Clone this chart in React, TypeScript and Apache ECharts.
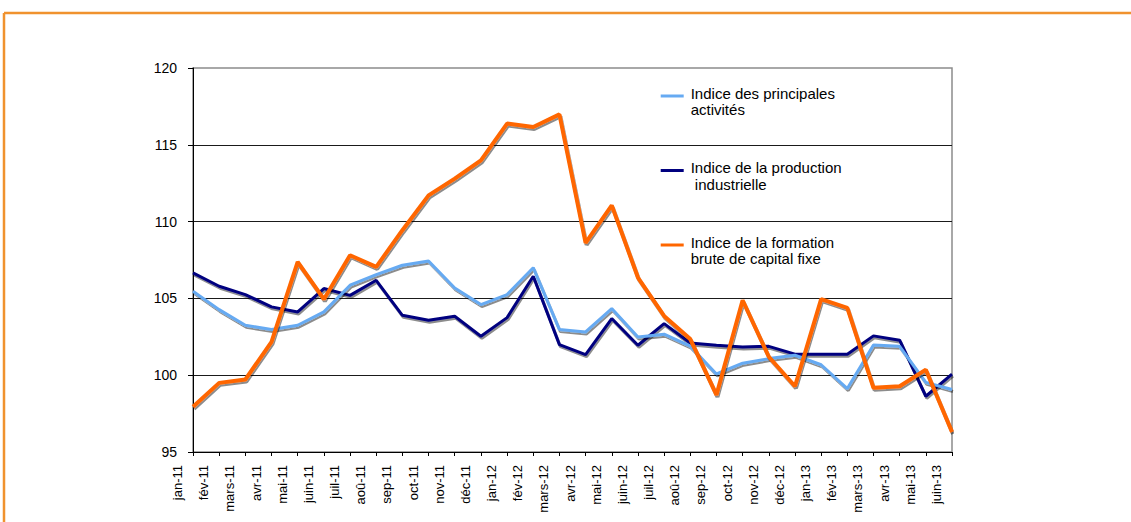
import React, { useEffect, useRef } from "react";
import * as echarts from "echarts";

const months = [
  "jan-11", "fév-11", "mars-11", "avr-11", "mai-11", "juin-11", "juil-11", "aoû-11", "sep-11", "oct-11", "nov-11", "déc-11",
  "jan-12", "fév-12", "mars-12", "avr-12", "mai-12", "juin-12", "juil-12", "aoû-12", "sep-12", "oct-12", "nov-12", "déc-12",
  "jan-13", "fév-13", "mars-13", "avr-13", "mai-13", "juin-13",
];

const principalesActivites = [
  105.47, 104.27, 103.25, 102.97, 103.25, 104.12, 105.86, 106.55, 107.16, 107.44, 105.68, 104.6,
  105.25, 107.0, 102.97, 102.82, 104.34, 102.49, 102.67, 101.89, 100.08, 100.78, 101.08, 101.3,
  100.68, 99.13, 101.97, 101.88, 99.53, 99.07,
];

const productionIndustrielle = [
  106.66, 105.79, 105.25, 104.45, 104.12, 105.64, 105.2, 106.18, 103.9, 103.58, 103.84, 102.54,
  103.75, 106.44, 101.99, 101.34, 103.69, 101.95, 103.36, 102.1, 101.95, 101.84, 101.88, 101.37,
  101.37, 101.37, 102.56, 102.28, 98.63, 100.07,
];

const formationCapital = [
  97.94, 99.5, 99.72, 102.17, 107.37, 104.95, 107.81, 107.05, 109.44, 111.71, 112.8, 113.99,
  116.38, 116.16, 116.98, 108.61, 111.06, 106.36, 103.86, 102.35, 98.72, 104.88, 101.2, 99.28,
  104.95, 104.38, 99.18, 99.28, 100.36, 96.3,
];

const nameLB = "Indice des principales\nactivités";
const nameNV = "Indice de la production\n industrielle";
const nameOR = "Indice de la formation\nbrute de capital fixe";

const FONT = "'Liberation Sans', Arial, sans-serif";

export default function App() {
  const ref = useRef<HTMLDivElement>(null);

  useEffect(() => {
    if (!ref.current) return;
    const chart = echarts.init(ref.current, null, { renderer: "svg" });
    const shadow = {
      shadowColor: "rgba(0,0,0,0.45)",
      shadowBlur: 1.5,
      shadowOffsetX: 1,
      shadowOffsetY: 2,
    };
    chart.setOption({
      animation: false,
      backgroundColor: "#ffffff",
      textStyle: { fontFamily: FONT },
      grid: {
        left: 193,
        right: 179,
        top: 68,
        bottom: 70,
        show: true,
        borderColor: "#8c8c8c",
        borderWidth: 1.5,
        backgroundColor: "transparent",
      },
      legend: {
        orient: "vertical",
        left: 655.7,
        top: 70.5,
        itemWidth: 23,
        itemHeight: 3,
        itemGap: 33,
        icon: "rect",
        selectedMode: false,
        data: [nameLB, nameNV, nameOR],
        formatter: (name: string) =>
          "{s| }\n" + name.split("\n").map((l) => `{a|${l}}`).join("\n"),
        textStyle: {
          fontFamily: FONT,
          fontSize: 15,
          color: "#000",
          padding: [0, 0, 0, 2],
          rich: {
            s: { fontSize: 8, lineHeight: 10.5 },
            a: { fontFamily: FONT, fontSize: 15, lineHeight: 16.5, color: "#000" },
          },
        },
      },
      xAxis: {
        type: "category",
        data: months,
        boundaryGap: false,
        axisLine: { lineStyle: { color: "#000", width: 1 } },
        axisTick: { show: true, interval: 0, length: 4, lineStyle: { color: "#000" } },
        axisLabel: {
          interval: 0,
          rotate: 90,
          margin: 13,
          fontSize: 13,
          fontFamily: FONT,
          color: "#000",
          align: "right",
          verticalAlign: "bottom",
          padding: [0, 0, 9, 0],
        },
        splitLine: { show: false },
      },
      yAxis: {
        type: "value",
        min: 95,
        max: 120,
        interval: 5,
        axisLine: { show: true, lineStyle: { color: "#000", width: 1 } },
        axisTick: { show: true, length: 5, lineStyle: { color: "#000" } },
        axisLabel: { margin: 16, fontSize: 14, fontFamily: FONT, color: "#000" },
        splitLine: { show: true, showMaxLine: false, lineStyle: { color: "#1a1a1a", width: 1 } },
      },
      series: [
        {
          name: nameNV,
          type: "line",
          data: productionIndustrielle,
          showSymbol: false,
          symbol: "none",
          color: "#00007f",
          lineStyle: { color: "#00007f", width: 3, ...shadow },
        },
        {
          name: nameLB,
          type: "line",
          data: principalesActivites,
          showSymbol: false,
          symbol: "none",
          color: "#66aaf2",
          lineStyle: { color: "#66aaf2", width: 3, ...shadow },
        },
        {
          name: nameOR,
          type: "line",
          data: formationCapital,
          showSymbol: false,
          symbol: "none",
          color: "#ff6600",
          lineStyle: { color: "#ff6600", width: 4, ...shadow },
        },
      ],
      graphic: [
        {
          type: "line",
          shape: { x1: 4, y1: 13, x2: 1131, y2: 13 },
          style: { stroke: "#f0922e", lineWidth: 2.5 },
          silent: true,
        },
        {
          type: "line",
          shape: { x1: 4, y1: 13, x2: 4, y2: 522 },
          style: { stroke: "#f0922e", lineWidth: 2.5 },
          silent: true,
        },
      ],
    });
    return () => chart.dispose();
  }, []);

  return (
    <div
      ref={ref}
      style={{ position: "absolute", left: 0, top: 0, width: 1131, height: 522 }}
    />
  );
}
